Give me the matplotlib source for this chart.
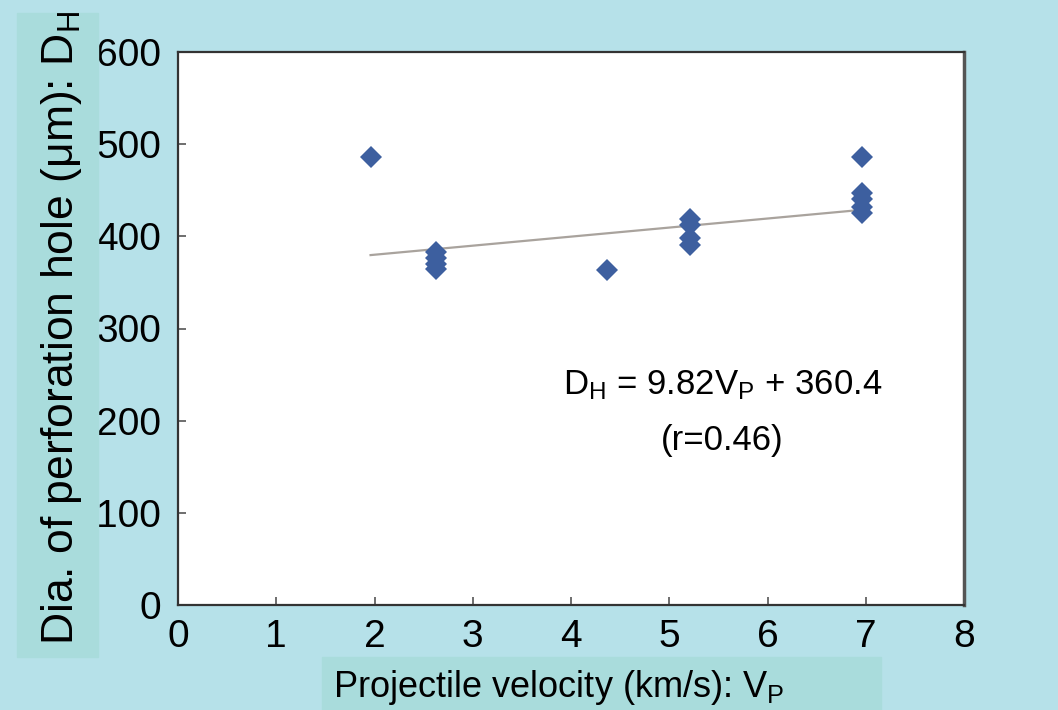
import matplotlib
matplotlib.use('Agg')
from matplotlib import pyplot as plt
from matplotlib.patches import Rectangle

plt.rcParams['font.family'] = ['Liberation Sans', 'DejaVu Sans']
plt.rcParams['mathtext.fontset'] = 'custom'
plt.rcParams['mathtext.rm'] = 'Liberation Sans'
plt.rcParams['mathtext.default'] = 'regular'

# data
velocity = [1.96, 2.63, 2.63, 2.63, 2.63, 4.37, 5.21, 5.21, 5.21, 5.21,
            6.96, 6.96, 6.96, 6.96, 6.96]
holeDia = [486, 383, 376, 370, 365, 363, 419, 412, 398, 391,
           486, 447, 440, 432, 425]
fitSlope = 9.82
fitIntercept = 360.4
fitRange = [1.96, 6.96]
xTicks = [0, 1, 2, 3, 4, 5, 6, 7, 8]
yTicks = [0, 100, 200, 300, 400, 500, 600]

bgColor = '#b6e1e9'
boxColor = '#a9dcdc'
markerColor = '#3d5f9f'

fig = plt.figure(figsize=(10.58, 7.10), dpi=100)
fig.patch.set_facecolor(bgColor)

# label boxes behind the text
fig.patches.append(Rectangle((17/1058, 1-657/710), 81/1058, 644/710,
                             transform=fig.transFigure, color=boxColor, zorder=0))
fig.patches.append(Rectangle((322/1058, 0), 559/1058, 53/710,
                             transform=fig.transFigure, color=boxColor, zorder=0))

ax = fig.add_axes([178/1058, 1-605/710, 786/1058, 553/710])
ax.set_facecolor('white')

fitY = [fitSlope * v + fitIntercept for v in fitRange]
ax.plot(fitRange, fitY, color='#a9a39d', lw=1.6, zorder=2)
ax.plot(velocity, holeDia, linestyle='none', marker='D', ms=11.5,
        color=markerColor, markeredgewidth=0, zorder=3)

ax.set_xlim(0, 8)
ax.set_ylim(0, 600)
ax.set_xticks(xTicks)
ax.set_yticks(yTicks)
ax.tick_params(direction='in', length=6, width=1.2, color='#555555',
               labelsize=28, pad=12)
ax.tick_params(axis='x', pad=10)
for s in ax.spines.values():
    s.set_linewidth(1.6)
    s.set_color('#333333')
ax.spines['right'].set_linewidth(2.5)
ax.spines['right'].set_color('#555555')

ax.text(5.54, 239, r'$D_H$ = 9.82$V_P$ + 360.4', fontsize=25,
        ha='center', va='center')
ax.text(5.54, 179, '(r=0.46)', fontsize=25, ha='center', va='center')

fig.text(62/1058, 1-328/710, r'Dia. of perforation hole (μm): $D_H$',
         rotation=90, fontsize=32, ha='center', va='center')
fig.text(333/1058, 1-697/710, r'Projectile velocity (km/s): $V_P$',
         fontsize=26, ha='left', va='baseline')

plt.savefig('out.png', dpi=100, facecolor=fig.get_facecolor())
